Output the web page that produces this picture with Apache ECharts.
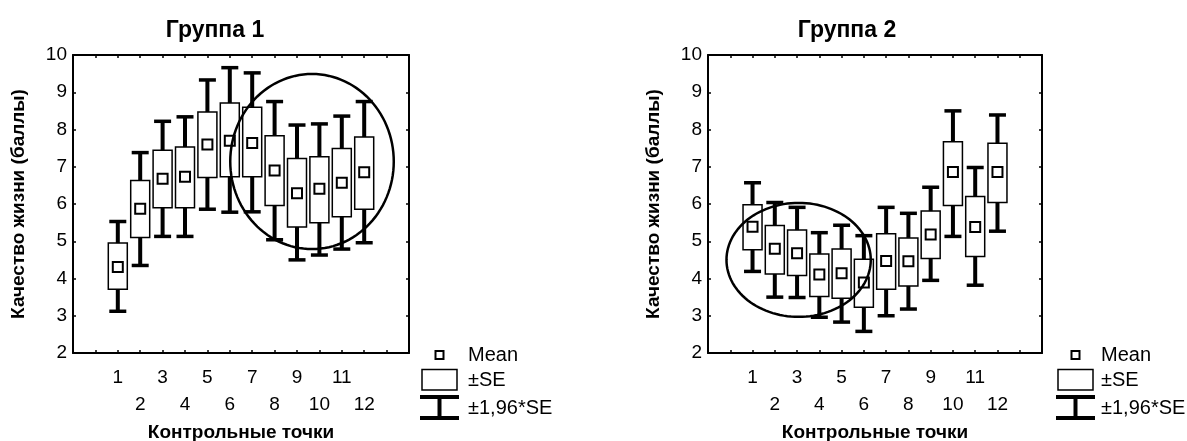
<!DOCTYPE html>
<html>
<head>
<meta charset="utf-8">
<script src="https://cdn.jsdelivr.net/npm/echarts@6/dist/echarts.min.js"></script>
<style>
html,body{margin:0;padding:0;background:#fff;}
#chart{width:1187px;height:441px;}
</style>
</head>
<body>
<div id="chart"></div>
<script>
// ---------- data ----------
const categories = [1, 2, 3, 4, 5, 6, 7, 8, 9, 10, 11, 12];
const titles = ['Группа 1', 'Группа 2'];
const yName = 'Качество жизни (баллы)';
const xName = 'Контрольные точки';
const legendLabels = ['Mean', '±SE', '±1,96*SE'];

// Group 1
const g1Mean   = [4.31, 5.87, 6.68, 6.73, 7.60, 7.70, 7.64, 6.90, 6.29, 6.41, 6.57, 6.85];
const g1SeLow  = [3.71, 5.10, 5.90, 5.90, 6.71, 6.73, 6.73, 5.96, 5.38, 5.50, 5.66, 5.86];
const g1SeHigh = [4.95, 6.63, 7.44, 7.53, 8.47, 8.71, 8.60, 7.83, 7.22, 7.27, 7.49, 7.80];
const g1CiLow  = [3.12, 4.35, 5.13, 5.13, 5.86, 5.78, 5.79, 5.04, 4.50, 4.63, 4.79, 4.96];
const g1CiHigh = [5.53, 7.38, 8.22, 8.34, 9.33, 9.66, 9.52, 8.75, 8.12, 8.15, 8.36, 8.75];
// highlight ellipse: [centerX, centerY, radiusX, radiusY] in data units
const g1Ellipse = [9.67, 7.14, 3.65, 2.35];

// Group 2
const g2Mean   = [5.39, 4.80, 4.68, 4.11, 4.14, 3.89, 4.47, 4.46, 5.18, 6.86, 5.38, 6.86];
const g2SeLow  = [4.77, 4.12, 4.08, 3.52, 3.47, 3.23, 3.71, 3.80, 4.54, 5.96, 4.59, 6.04];
const g2SeHigh = [5.98, 5.42, 5.30, 4.66, 4.79, 4.52, 5.20, 5.09, 5.81, 7.67, 6.20, 7.63];
const g2CiLow  = [4.19, 3.50, 3.49, 2.96, 2.83, 2.58, 3.00, 3.18, 3.95, 5.13, 3.82, 5.27];
const g2CiHigh = [6.57, 6.04, 5.91, 5.23, 5.43, 5.15, 5.91, 5.75, 6.45, 8.50, 6.98, 8.39];
const g2Ellipse = [3.07, 4.50, 3.24, 1.53];

// ---------- chart ----------
const FONT = '"Liberation Sans", Arial, sans-serif';
const BLACK = '#000';

function rows(mean, seLo, seHi, ciLo, ciHi) {
  return categories.map((c, i) => [c, ciLo[i], seLo[i], mean[i], seHi[i], ciHi[i]]);
}

function renderBox(params, api) {
  const x = api.value(0);
  const ciLo = api.coord([x, api.value(1)]);
  const seLo = api.coord([x, api.value(2)]);
  const mean = api.coord([x, api.value(3)]);
  const seHi = api.coord([x, api.value(4)]);
  const ciHi = api.coord([x, api.value(5)]);
  const cx = mean[0];
  const boxW = 19, capW = 17, mW = 10;
  return {
    type: 'group',
    children: [
      { type: 'line', shape: { x1: cx, y1: ciLo[1], x2: cx, y2: ciHi[1] }, style: { stroke: BLACK, lineWidth: 4 } },
      { type: 'line', shape: { x1: cx - capW / 2, y1: ciLo[1], x2: cx + capW / 2, y2: ciLo[1] }, style: { stroke: BLACK, lineWidth: 3.5 } },
      { type: 'line', shape: { x1: cx - capW / 2, y1: ciHi[1], x2: cx + capW / 2, y2: ciHi[1] }, style: { stroke: BLACK, lineWidth: 3.5 } },
      { type: 'rect', shape: { x: cx - boxW / 2, y: seHi[1], width: boxW, height: seLo[1] - seHi[1] }, style: { fill: '#fff', stroke: BLACK, lineWidth: 1.5 } },
      { type: 'rect', shape: { x: cx - mW / 2, y: mean[1] - mW / 2, width: mW, height: mW }, style: { fill: '#fff', stroke: BLACK, lineWidth: 2 } }
    ]
  };
}

function renderEllipse(params, api) {
  const cx = api.value(0), cy = api.value(1), rx = api.value(2), ry = api.value(3);
  const pts = [];
  const N = 120;
  for (let k = 0; k < N; k++) {
    const t = 2 * Math.PI * k / N;
    pts.push(api.coord([cx + rx * Math.cos(t), cy + ry * Math.sin(t)]));
  }
  return { type: 'polygon', shape: { points: pts }, style: { fill: 'none', stroke: BLACK, lineWidth: 2.5 } };
}

const grids = [
  { left: 73, top: 55, width: 336, height: 298, containLabel: false, outerBoundsMode: 'none' },
  { left: 708, top: 55, width: 334, height: 298, containLabel: false, outerBoundsMode: 'none' }
];

function xAxes(gi) {
  const common = {
    gridIndex: gi, type: 'value', min: -1, max: 14, interval: 1,
    axisLine: { onZero: false, lineStyle: { color: BLACK, width: 2 } },
    axisTick: { inside: true, length: 3, lineStyle: { color: BLACK, width: 1.5 } },
    splitLine: { show: false }
  };
  return [
    Object.assign({}, common, {
      position: 'bottom',
      axisLabel: {
        color: BLACK, fontSize: 19, fontFamily: FONT, lineHeight: 27, margin: 11,
        formatter: v => (v < 1 || v > 12) ? '' : (v % 2 ? String(v) : '\n' + v)
      },
      name: xName, nameLocation: 'middle', nameGap: 70,
      nameTextStyle: { color: BLACK, fontSize: 19, fontWeight: 'bold', fontFamily: FONT }
    }),
    Object.assign({}, common, { position: 'top', axisLabel: { show: false } })
  ];
}

function yAxes(gi) {
  const common = {
    gridIndex: gi, type: 'value', min: 2, max: 10, interval: 1,
    axisLine: { show: true, onZero: false, lineStyle: { color: BLACK, width: 2 } },
    axisTick: { show: true, inside: true, length: 3, lineStyle: { color: BLACK, width: 1.5 } },
    splitLine: { show: false }
  };
  return [
    Object.assign({}, common, {
      position: 'left',
      axisLabel: { color: BLACK, fontSize: 19, fontFamily: FONT, margin: 6 },
      name: yName, nameLocation: 'middle', nameGap: 45, nameRotate: 90,
      nameTextStyle: { color: BLACK, fontSize: 19, fontWeight: 'bold', fontFamily: FONT }
    }),
    Object.assign({}, common, { position: 'right', axisLabel: { show: false } })
  ];
}

function legendGraphics(shapeX, textX) {
  const ts = { fill: BLACK, fontSize: 20, fontFamily: FONT, textVerticalAlign: 'middle', textAlign: 'left' };
  return [
    { type: 'rect', shape: { x: shapeX - 4, y: 351, width: 8, height: 8 }, style: { fill: '#fff', stroke: BLACK, lineWidth: 2 } },
    { type: 'text', x: textX, y: 355, style: Object.assign({ text: legendLabels[0] }, ts) },
    { type: 'rect', shape: { x: shapeX - 17.5, y: 369.5, width: 35, height: 20.5 }, style: { fill: '#fff', stroke: BLACK, lineWidth: 1.5 } },
    { type: 'text', x: textX, y: 380, style: Object.assign({ text: legendLabels[1] }, ts) },
    { type: 'line', shape: { x1: shapeX - 19.5, y1: 397, x2: shapeX + 19.5, y2: 397 }, style: { stroke: BLACK, lineWidth: 4 } },
    { type: 'line', shape: { x1: shapeX - 19.5, y1: 418, x2: shapeX + 19.5, y2: 418 }, style: { stroke: BLACK, lineWidth: 4 } },
    { type: 'line', shape: { x1: shapeX, y1: 397, x2: shapeX, y2: 418 }, style: { stroke: BLACK, lineWidth: 4 } },
    { type: 'text', x: textX, y: 408, style: Object.assign({ text: legendLabels[2] }, ts) }
  ];
}

const chart = echarts.init(document.getElementById('chart'), null, { renderer: 'canvas' });
chart.setOption({
  animation: false,
  backgroundColor: '#fff',
  title: [
    { text: titles[0], left: 210, top: 14, textAlign: 'center', textStyle: { color: BLACK, fontSize: 23, fontWeight: 'bold', fontFamily: FONT } },
    { text: titles[1], left: 842, top: 14, textAlign: 'center', textStyle: { color: BLACK, fontSize: 23, fontWeight: 'bold', fontFamily: FONT } }
  ],
  grid: grids,
  xAxis: xAxes(0).concat(xAxes(1)),
  yAxis: yAxes(0).concat(yAxes(1)),
  series: [
    { type: 'custom', xAxisIndex: 0, yAxisIndex: 0, renderItem: renderBox, data: rows(g1Mean, g1SeLow, g1SeHigh, g1CiLow, g1CiHigh), encode: { x: 0, y: [1, 2, 3, 4, 5] }, z: 2 },
    { type: 'custom', xAxisIndex: 0, yAxisIndex: 0, renderItem: renderEllipse, data: [g1Ellipse], encode: { x: 0, y: 1 }, z: 3 },
    { type: 'custom', xAxisIndex: 2, yAxisIndex: 2, renderItem: renderBox, data: rows(g2Mean, g2SeLow, g2SeHigh, g2CiLow, g2CiHigh), encode: { x: 0, y: [1, 2, 3, 4, 5] }, z: 2 },
    { type: 'custom', xAxisIndex: 2, yAxisIndex: 2, renderItem: renderEllipse, data: [g2Ellipse], encode: { x: 0, y: 1 }, z: 3 }
  ],
  graphic: legendGraphics(439.5, 468).concat(legendGraphics(1075.5, 1101))
});
</script>
</body>
</html>
